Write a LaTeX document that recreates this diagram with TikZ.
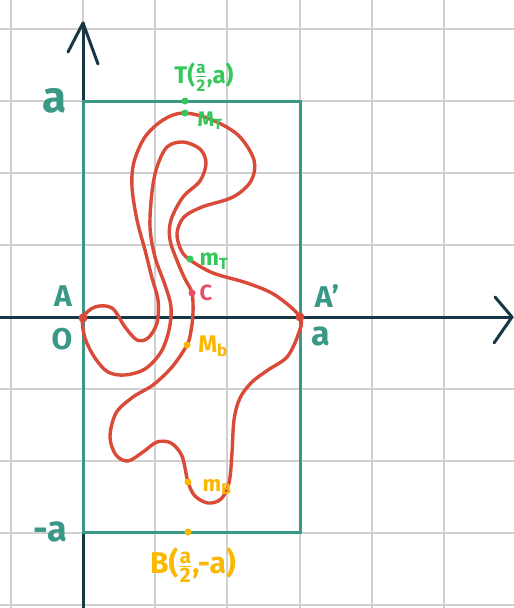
\documentclass[tikz,border=0pt]{standalone}
\usepackage{fontspec}
\usepackage{amsmath}
\setmainfont{Fira Sans}
\definecolor{teal}{RGB}{58,152,134}
\definecolor{axisc}{RGB}{24,55,70}
\definecolor{curvec}{RGB}{218,74,56}
\definecolor{greenc}{RGB}{52,199,89}
\definecolor{yellowc}{RGB}{250,184,0}
\definecolor{pinkc}{RGB}{232,79,104}
\definecolor{gridc}{RGB}{208,208,208}
\newcommand\fsz[1]{\fontsize{#1}{#1}\selectfont\bfseries}
\begin{document}
\begin{tikzpicture}[x=1pt,y=-1pt,
  gridline/.style={draw=gridc,line width=1.5pt},
  axisline/.style={draw=axisc,line width=3pt,line cap=round,line join=round},
  boxline/.style={draw=teal,line width=3pt},
  curveline/.style={draw=curvec,line width=3.4pt,line join=round},
  dot/.style={circle,inner sep=0pt,minimum size=7pt},
  bigdot/.style={circle,inner sep=0pt,minimum size=9pt,fill=curvec},
  lbl/.style={inner sep=0pt},
]
\useasboundingbox (0,0) rectangle (514,608);
\fill[white] (0,0) rectangle (514,608);
% grid
\foreach \x in {11,83,155,227,300,372,444} \draw[gridline] (\x,0) -- (\x,608);
\foreach \y in {29,101,173,245,317,389,461,533,605} \draw[gridline] (0,\y) -- (514,\y);
% axes
\coordinate (xstart) at (0,317);
\coordinate (xend) at (512,317);
\coordinate (ystart) at (83,608);
\coordinate (yend) at (83,23);
\draw[axisline] (xstart) -- (xend);
\draw[axisline] (ystart) -- (yend);
\draw[axisline] (495,297) -- (xend) -- (494,343);
\draw[axisline] (68,52) -- (yend) -- (98,64);
% box
\draw[boxline] (83,101) rectangle (300,532);
% curve
\draw[curveline] plot[smooth cycle, tension=0.55] coordinates {
(83,318) (95,307) (112,308) (125,327) (137,340) (148,338) (157,323) (158,300)
(152,278) (145,250) (137,220) (132,187) (134,162) (145,137) (163,120) (183,113)
(210,119) (238,135) (254,160) (251,181) (233,197) (202,207) (184,217) (177,233)
(181,250) (190,260) (213,273) (247,283) (275,295) (300,317) (298,335) (287,357)
(268,370) (252,382) (240,398) (234,420) (232,453) (229,483) (221,499) (208,503)
(195,496) (188,482) (182,456) (171,443) (157,442) (143,452) (128,461) (116,455)
(110,437) (116,413) (133,397) (153,385) (172,367) (187,345) (191,331) (193,313)
(192,293) (185,279) (178,263) (170,240) (171,220) (183,197) (200,181) (206,163)
(200,149) (183,142) (167,147) (157,167) (152,192) (150,227) (155,257) (165,285)
(171,307) (169,330) (161,352) (145,369) (125,375) (108,372) (95,358) (85,338)};
% points
\node[bigdot] (A) at (83,318) {};
\node[bigdot] (Ap) at (300,317) {};
\node[dot,fill=greenc] (T) at (185,101) {};
\node[dot,fill=greenc] (MT) at (185,113) {};
\node[dot,fill=greenc] (mT) at (190,259) {};
\node[dot,fill=pinkc] (C) at (192,293) {};
\node[dot,fill=yellowc] (Mb) at (187,345) {};
\node[dot,fill=yellowc] (mB) at (188,482) {};
\node[dot,fill=yellowc] (B) at (188,532) {};
% axis labels
\node[lbl,text=teal,font=\fsz{44}] (la) at (55,101) {a};
\node[lbl,text=teal,font=\fsz{30}] (lA) at (63,296) {A};
\node[lbl,text=teal,font=\fsz{30}] (lO) at (62,339) {O};
\node[lbl,text=teal,font=\fsz{30}] (lAp) at (327,296) {A'};
\node[lbl,text=teal,font=\fsz{34}] (lar) at (321,336) {a};
\node[lbl,text=teal,font=\fsz{36}] (lma) at (50,532) {-a};
% point labels
\node[lbl,text=greenc,font=\fsz{24}] (lT) at (204,77) {T($\frac{\text{a}}{\text{2}}$,a)};
\node[lbl,text=greenc,font=\fsz{21}] (lMT) at (210,121) {M\textsubscript{T}};
\node[lbl,text=greenc,font=\fsz{23}] (lmT) at (214,261) {m\textsubscript{T}};
\node[lbl,text=pinkc,font=\fsz{22}] (lC) at (206,293) {C};
\node[lbl,text=yellowc,font=\fsz{24}] (lMb) at (213,346) {M\textsubscript{b}};
\node[lbl,text=yellowc,font=\fsz{22}] (lmB) at (217,487) {m\textsubscript{B}};
\node[lbl,text=yellowc,font=\fsz{30}] (lB) at (193,565) {B($\frac{\text{a}}{\text{2}}$,-a)};
\end{tikzpicture}
\end{document}
